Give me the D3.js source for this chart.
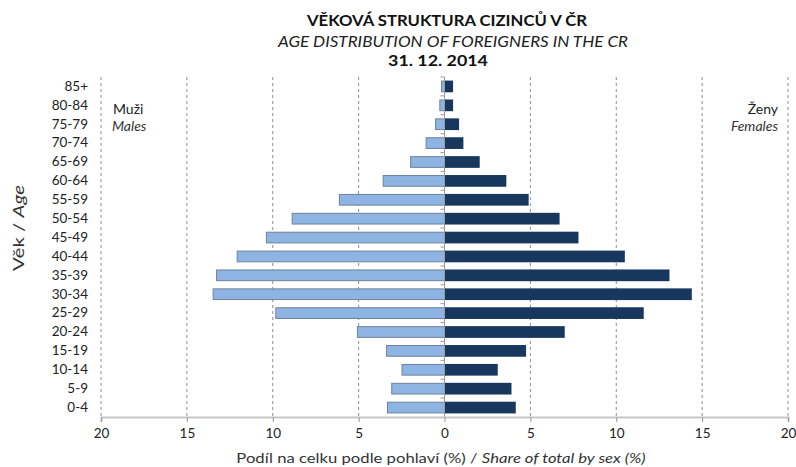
<!DOCTYPE html>
<html>
<head>
<meta charset="utf-8">
<script src="https://cdn.jsdelivr.net/npm/d3@7"></script>
<style>
  body { margin: 0; background: #fff; }
  svg { display: block; font-family: Lato, "Open Sans", sans-serif; }
</style>
</head>
<body>
<svg id="chart" width="796" height="467"></svg>
<script>
const categories = ["85+","80-84","75-79","70-74","65-69","60-64","55-59","50-54","45-49","40-44","35-39","30-34","25-29","20-24","15-19","10-14","5-9","0-4"];
const males   = [0.2, 0.3, 0.55, 1.1, 2.0, 3.6, 6.15, 8.9, 10.4, 12.1, 13.3, 13.5, 9.85, 5.1, 3.4, 2.5, 3.1, 3.35];
const females = [0.5, 0.5, 0.85, 1.1, 2.05, 3.6, 4.9, 6.7, 7.8, 10.5, 13.1, 14.4, 11.6, 7.0, 4.75, 3.1, 3.9, 4.15];
const xTicks = [-20, -15, -10, -5, 0, 5, 10, 15, 20];

const svg = d3.select("#chart");
const x = d3.scaleLinear().domain([-20, 20]).range([101, 788]);
const y = d3.scaleBand().domain(categories).range([77, 417]).paddingInner(0.38).paddingOuter(0.19);
const band = d3.scaleBand().domain(categories).range([77, 417]);

// text placed at (0,0) inside a group; stretch it horizontally to span width w
function stretchedText(parent, cx, cy, w, rotate) {
  const g = parent.append("g");
  const t = g.append("text").attr("x", 0).attr("y", 0).attr("text-anchor", "middle");
  return {
    t: t,
    done: function () {
      const len = t.node().getComputedTextLength();
      const sx = w / len;
      g.attr("transform", `translate(${cx},${cy})` + (rotate ? ` rotate(${rotate})` : "") + ` scale(${sx.toFixed(3)},1)`);
    }
  };
}

// gridlines
svg.append("g").selectAll("line").data(xTicks.filter(d => d !== 0)).join("line")
  .attr("x1", d => x(d)).attr("x2", d => x(d))
  .attr("y1", 77).attr("y2", 417)
  .attr("stroke", "#8c8c8c").attr("stroke-width", 1).attr("stroke-dasharray", "3,3");

// male bars
svg.append("g").selectAll("rect").data(categories).join("rect")
  .attr("x", (d, i) => x(-males[i]) + 0.5)
  .attr("y", d => y(d) + 0.5)
  .attr("width", (d, i) => x(0) - x(-males[i]))
  .attr("height", y.bandwidth() - 1)
  .attr("fill", "#8DB4E2").attr("stroke", "#6f8299").attr("stroke-width", 1);

// female bars
svg.append("g").selectAll("rect").data(categories).join("rect")
  .attr("x", x(0))
  .attr("y", d => y(d))
  .attr("width", (d, i) => x(females[i]) - x(0))
  .attr("height", y.bandwidth())
  .attr("fill", "#17375E");

// zero axis with minor ticks
const zg = svg.append("g");
zg.append("line").attr("x1", x(0)).attr("x2", x(0)).attr("y1", 77).attr("y2", 417)
  .attr("stroke", "#9a9a9a").attr("stroke-width", 1);
zg.selectAll("line.t").data(categories).join("line").attr("class", "t")
  .attr("x1", x(0) - 4).attr("x2", x(0))
  .attr("y1", d => band(d)).attr("y2", d => band(d))
  .attr("stroke", "#9a9a9a");

// x axis
const xAxis = d3.axisBottom(x).tickValues(xTicks).tickFormat(d => Math.abs(d)).tickSize(5).tickPadding(6);
const xg = svg.append("g").attr("transform", "translate(0,417)").call(xAxis);
xg.select(".domain").attr("stroke", "#c8c8c8").attr("stroke-width", 2);
xg.selectAll(".tick line").attr("stroke", "#9a9a9a");
xg.selectAll(".tick text").attr("font-size", 13.5).attr("fill", "#222").attr("font-family", "Lato, sans-serif");

// y axis labels
const yAxis = d3.axisLeft(band).tickSize(0).tickPadding(0);
const yg = svg.append("g").attr("transform", "translate(88,0)").call(yAxis);
yg.select(".domain").remove();
yg.selectAll(".tick text").attr("font-size", 13.5).attr("fill", "#222").attr("font-family", "Lato, sans-serif");

// titles
const t1 = stretchedText(svg, 447, 26, 280);
t1.t.attr("font-size", 15).attr("font-weight", "bold").attr("fill", "#111").text("VĚKOVÁ STRUKTURA CIZINCŮ V ČR");
t1.done();
const t2 = stretchedText(svg, 453, 47, 350);
t2.t.attr("font-size", 15).attr("font-style", "italic").attr("fill", "#222").text("AGE DISTRIBUTION OF FOREIGNERS IN THE CR");
t2.done();
const t3 = stretchedText(svg, 438, 66, 100);
t3.t.attr("font-size", 15).attr("font-weight", "bold").attr("fill", "#111").text("31. 12. 2014");
t3.done();

// legends
svg.append("text").attr("x", 113).attr("y", 114).attr("font-size", 14).attr("fill", "#222").text("Muži");
svg.append("text").attr("x", 112).attr("y", 131).attr("font-size", 14).attr("font-style", "italic").attr("fill", "#333").text("Males");
svg.append("text").attr("x", 778).attr("y", 114).attr("text-anchor", "end").attr("font-size", 14).attr("fill", "#222").text("Ženy");
svg.append("text").attr("x", 778).attr("y", 131).attr("text-anchor", "end").attr("font-size", 14).attr("font-style", "italic").attr("fill", "#333").text("Females");

// y axis title
const yt = stretchedText(svg, 24, 228, 86, -90);
yt.t.attr("font-size", 14.5).attr("fill", "#333");
yt.t.append("tspan").text("Věk  /  ");
yt.t.append("tspan").attr("font-style", "italic").text("Age");
yt.done();

// x axis title
const xt = stretchedText(svg, 441, 463, 410);
xt.t.attr("font-size", 14).attr("fill", "#333");
xt.t.append("tspan").text("Podíl na celku podle pohlaví (%) / ");
xt.t.append("tspan").attr("font-style", "italic").text("Share of total by sex (%)");
xt.done();
</script>
</body>
</html>
